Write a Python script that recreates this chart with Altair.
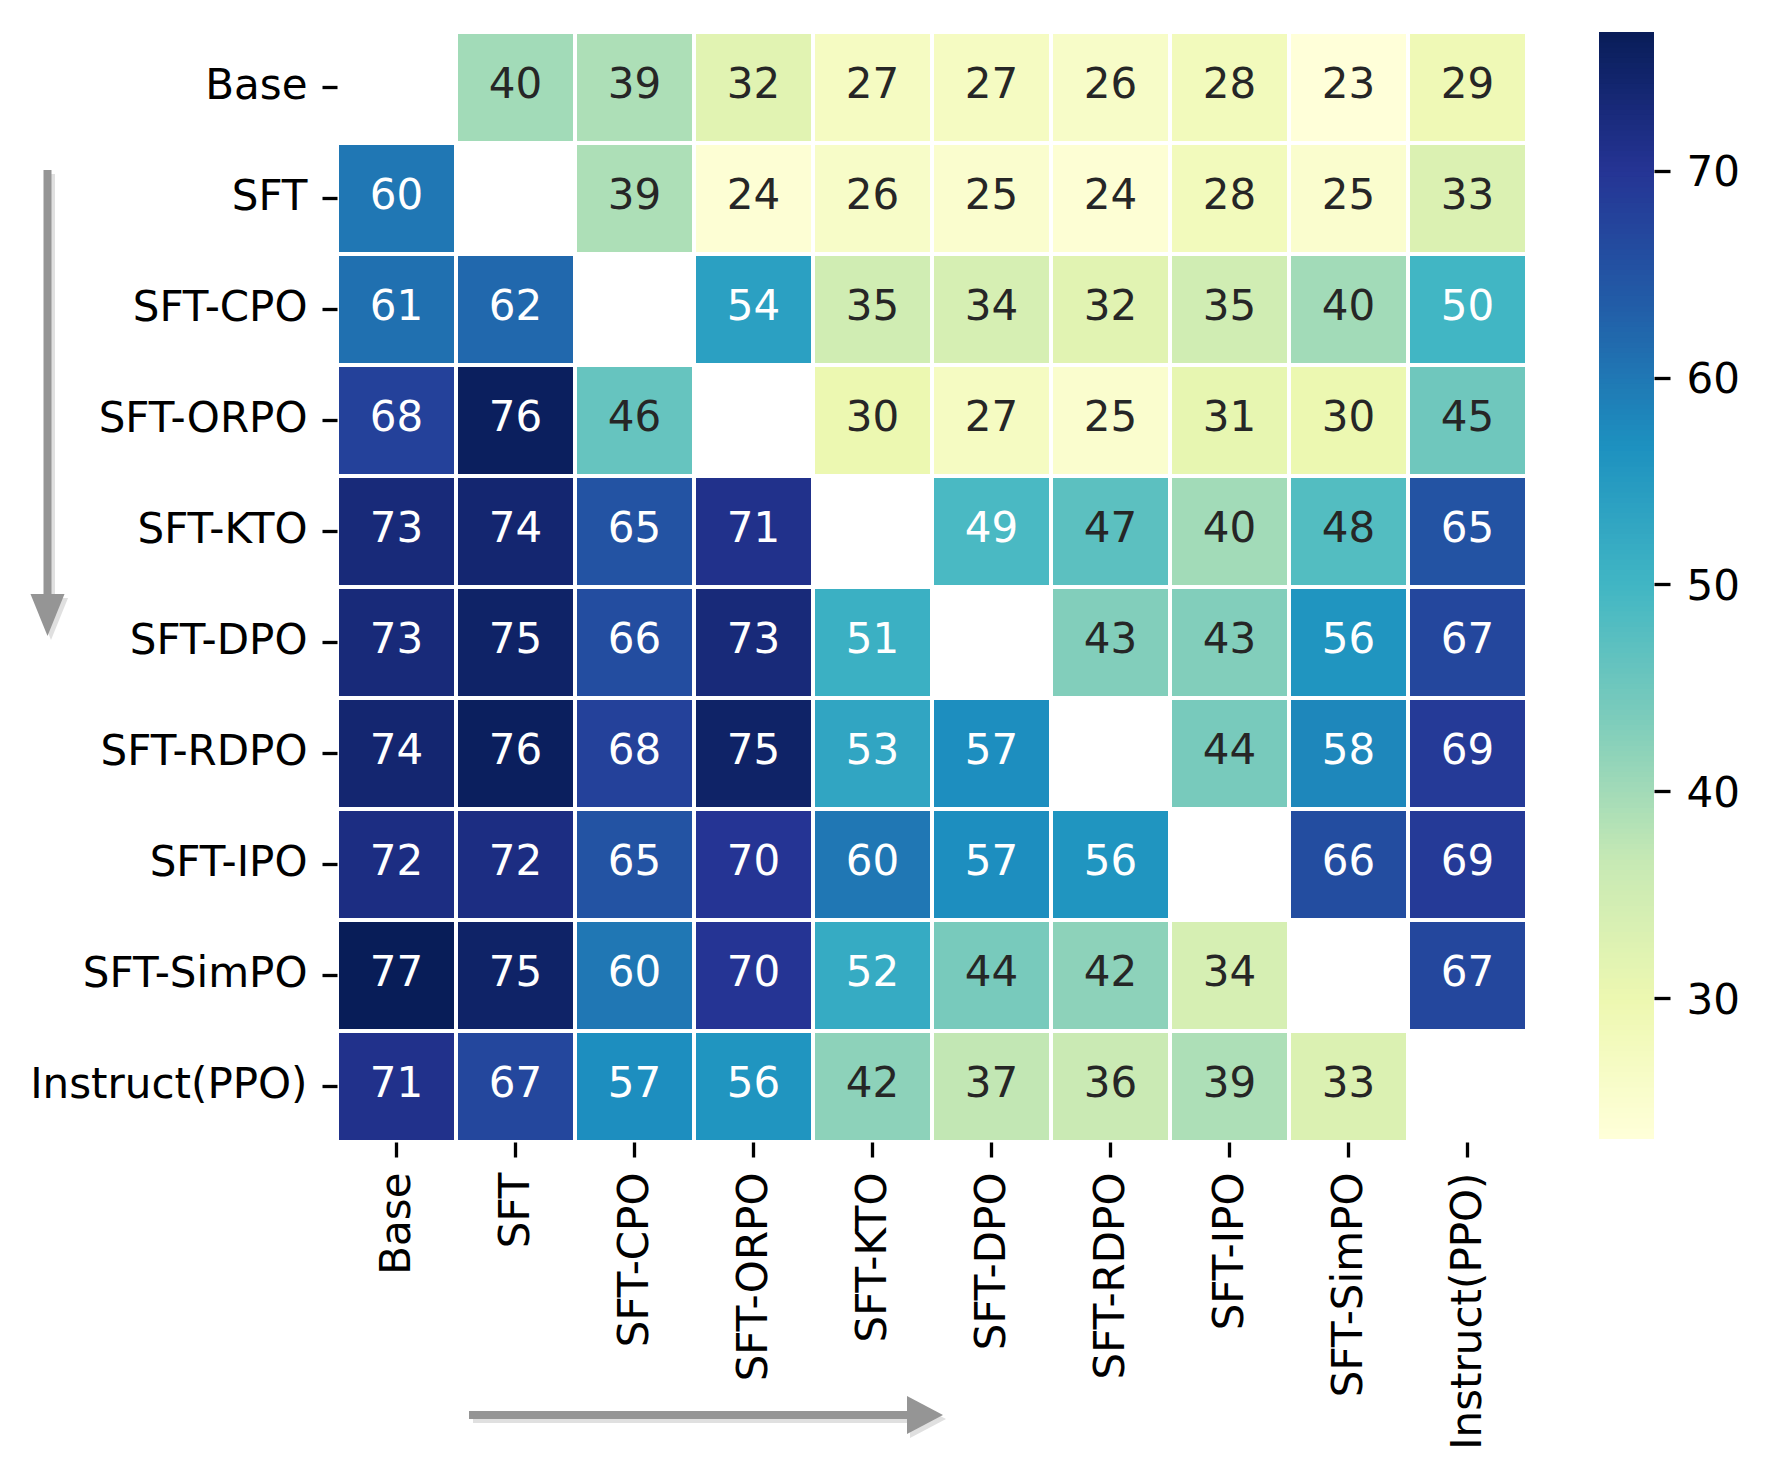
import altair as alt
import pandas as pd

models = ["Base", "SFT", "SFT-CPO", "SFT-ORPO", "SFT-KTO", "SFT-DPO",
          "SFT-RDPO", "SFT-IPO", "SFT-SimPO", "Instruct(PPO)"]

row_base = [None, 40, 39, 32, 27, 27, 26, 28, 23, 29]
row_sft = [60, None, 39, 24, 26, 25, 24, 28, 25, 33]
row_cpo = [61, 62, None, 54, 35, 34, 32, 35, 40, 50]
row_orpo = [68, 76, 46, None, 30, 27, 25, 31, 30, 45]
row_kto = [73, 74, 65, 71, None, 49, 47, 40, 48, 65]
row_dpo = [73, 75, 66, 73, 51, None, 43, 43, 56, 67]
row_rdpo = [74, 76, 68, 75, 53, 57, None, 44, 58, 69]
row_ipo = [72, 72, 65, 70, 60, 57, 56, None, 66, 69]
row_simpo = [77, 75, 60, 70, 52, 44, 42, 34, None, 67]
row_ppo = [71, 67, 57, 56, 42, 37, 36, 39, 33, None]

matrix = [row_base, row_sft, row_cpo, row_orpo, row_kto, row_dpo,
          row_rdpo, row_ipo, row_simpo, row_ppo]

# colour range of the colorbar (data min / max)
vmin, vmax = 23.2, 76.7
cbar_ticks = [30, 40, 50, 60, 70]

# matplotlib "YlGnBu" anchor colours
ylgnbu = ["#ffffd9", "#edf8b1", "#c7e9b4", "#7fcdbb", "#41b6c4",
          "#1d91c0", "#225ea8", "#253494", "#081d58"]
n_stops = len(ylgnbu)
color_domain = [vmin + (vmax - vmin) * i / (n_stops - 1) for i in range(n_stops)]

records = []
for r, rname in enumerate(models):
    for c, cname in enumerate(models):
        v = matrix[r][c]
        if v is not None:
            records.append({"row": rname, "col": cname, "value": v})
df = pd.DataFrame(records)

# colorbar strip (gradient of the same colour scale)
cb_n = 214
cb_step = (vmax - vmin) / cb_n
cb_v = [vmin + cb_step * i for i in range(cb_n)]
cb_df = pd.DataFrame({
    "v": cb_v,
    "v2": [min(v + cb_step * 1.6, vmax) for v in cb_v],
    "cv": [v + cb_step / 2 for v in cb_v],
})

FONT = "DejaVu Sans"
FS = 42
color_scale = alt.Scale(domain=color_domain, range=ylgnbu, interpolate="rgb", clamp=True)

axis_common = dict(title=None, labelFont=FONT, labelFontSize=FS, labelColor="black",
                   tickColor="black", tickWidth=3.3,
                   domain=False, grid=False, labelLimit=1000)

x_enc = alt.X("col:N", sort=models, scale=alt.Scale(paddingInner=0, paddingOuter=0),
              axis=alt.Axis(labelAngle=-90, tickSize=15, labelPadding=15, **axis_common))

rects = alt.Chart(df).mark_rect(stroke="white", strokeWidth=4).encode(
    x=x_enc,
    y=alt.Y("row:N", sort=models, scale=alt.Scale(paddingInner=0, paddingOuter=0),
            axis=alt.Axis(orient="left", tickSize=15, labelPadding=15, labelOffset=-2,
                          **axis_common)),
    color=alt.Color("value:Q", scale=color_scale, legend=None),
)

texts = alt.Chart(df).mark_text(font=FONT, fontSize=FS, baseline="middle", align="center",
                                dy=-3).encode(
    x=alt.X("col:N", sort=models, scale=alt.Scale(paddingInner=0, paddingOuter=0)),
    y=alt.Y("row:N", sort=models, scale=alt.Scale(paddingInner=0, paddingOuter=0), axis=None),
    text=alt.Text("value:Q"),
    color=alt.condition(alt.datum.value >= 48.5, alt.value("white"), alt.value("#262626")),
)

colorbar = alt.Chart(cb_df).mark_rect().encode(
    x=alt.value(1262),
    x2=alt.value(1317),
    y=alt.Y("v:Q", scale=alt.Scale(domain=[23.05, vmax], nice=False, zero=False),
            axis=alt.Axis(orient="right", offset=127, values=cbar_ticks, tickSize=16,
                          labelPadding=16, labelOffset=2, **axis_common)),
    y2="v2:Q",
    color=alt.Color("cv:Q", scale=color_scale, legend=None),
)

one = pd.DataFrame({"k": [0]})
ARROW = "#959595"
SHADOW = "#e0e0e0"

v_shadow = alt.Chart(one).mark_rule(color=SHADOW, strokeWidth=8).encode(
    x=alt.value(-286), y=alt.value(142), y2=alt.value(598))
v_shaft = alt.Chart(one).mark_rule(color=ARROW, strokeWidth=8).encode(
    x=alt.value(-289.5), y=alt.value(138), y2=alt.value(592))
v_head_sh = alt.Chart(one).mark_point(shape="M-1,-1.24L1,-1.24L0,1.24Z", filled=True,
                                      color=SHADOW, size=1156, opacity=1, strokeWidth=0).encode(
    x=alt.value(-286), y=alt.value(587))
v_head = alt.Chart(one).mark_point(shape="M-1,-1.24L1,-1.24L0,1.24Z", filled=True,
                                   color=ARROW, size=1156, opacity=1, strokeWidth=0).encode(
    x=alt.value(-289.5), y=alt.value(583))

h_shadow = alt.Chart(one).mark_rule(color=SHADOW, strokeWidth=8).encode(
    y=alt.value(1387), x=alt.value(136), x2=alt.value(574))
h_shaft = alt.Chart(one).mark_rule(color=ARROW, strokeWidth=8).encode(
    y=alt.value(1383), x=alt.value(132), x2=alt.value(572))
h_head_sh = alt.Chart(one).mark_point(shape="M-1,-1.06L1,0L-1,1.06Z", filled=True,
                                      color=SHADOW, size=1296, opacity=1, strokeWidth=0).encode(
    x=alt.value(591), y=alt.value(1387))
h_head = alt.Chart(one).mark_point(shape="M-1,-1.06L1,0L-1,1.06Z", filled=True,
                                   color=ARROW, size=1296, opacity=1, strokeWidth=0).encode(
    x=alt.value(588), y=alt.value(1383))

chart = alt.layer(
    rects, texts, colorbar,
    v_shadow, v_head_sh, v_shaft, v_head,
    h_shadow, h_head_sh, h_shaft, h_head,
).resolve_scale(y="independent").properties(
    width=1190, height=1110,
    padding={"left": 329, "top": 24, "right": 231, "bottom": 323},
    autosize=alt.AutoSizeParams(type="none"),
    background="white",
).configure_view(stroke=None)

chart.save("out.html", embed_options={"renderer": "svg", "actions": False})
